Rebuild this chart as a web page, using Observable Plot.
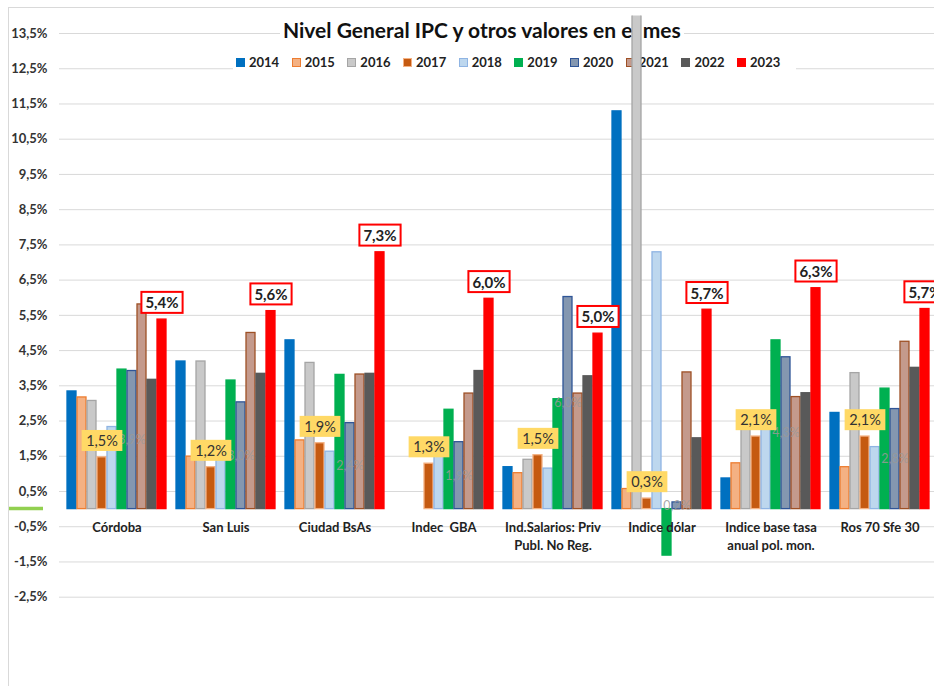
<!DOCTYPE html>
<html><head><meta charset="utf-8">
<script src="https://cdn.jsdelivr.net/npm/d3@7"></script>
<script src="https://cdn.jsdelivr.net/npm/@observablehq/plot@0.6"></script>
<style>
html,body{margin:0;padding:0;background:#fff;overflow:hidden;}
#wrap{position:relative;width:934px;height:686px;overflow:hidden;font-family:Lato,"Open Sans",sans-serif;}
#wrap > *{position:absolute;}
#frame{left:8px;top:7px;width:960px;height:720px;border-left:1px solid #d9d9d9;border-top:1px solid #d9d9d9;}
#title{left:280px;top:16px;padding:0 3px;background:#fff;font-weight:bold;font-size:21px;color:#111;line-height:27px;white-space:nowrap;}
#legend{left:233px;top:52px;height:20px;padding:0 3px;background:#fff;display:flex;align-items:center;font-weight:bold;font-size:13px;color:#222;white-space:nowrap;}
#legend .it{display:flex;align-items:center;margin-right:12.5px;}
#legend .sw{width:7px;height:7px;margin-right:4px;border:1px solid;}
</style>
</head><body>
<div id="wrap">
  <div id="base"></div>
  <div id="frame"></div>
  <div id="title">Nivel General IPC y otros valores en el mes</div>
  <div id="legend"></div>
  <div id="top"></div>
</div>
<script>
const categories = ["Córdoba", "San Luis", "Ciudad BsAs", "Indec  GBA", "Ind.Salarios: Priv\nPubl. No Reg.", "Indice dólar", "Indice base tasa\nanual pol. mon.", "Ros 70 Sfe 30"];
const years = ["2014", "2015", "2016", "2017", "2018", "2019", "2020", "2021", "2022", "2023"];
const v2014 = [3.34, 4.19, 4.79, null, 1.19, 11.29, 0.87, 2.73];
const v2015 = [3.17, 1.49, 1.95, null, 1.02, 0.57, 1.30, 1.19];
const v2016 = [3.07, 4.19, 4.15, null, 1.40, 15.0, 2.30, 3.86];
const v2017 = [1.47, 1.19, 1.87, 1.29, 1.53, 0.30, 2.06, 2.06];
const v2018 = [2.33, 1.40, 1.63, 1.60, 1.15, 7.29, 2.30, 1.76];
const v2019 = [3.96, 3.65, 3.81, 2.82, 3.12, -1.32, 4.79, 3.42];
const v2020 = [3.92, 3.03, 2.44, 1.90, 6.02, 0.19, 4.31, 2.84];
const v2021 = [5.81, 5.00, 3.82, 3.28, 3.28, 3.88, 3.18, 4.75];
const v2022 = [3.67, 3.84, 3.84, 3.92, 3.77, 2.01, 3.29, 4.01];
const v2023 = [5.38, 5.62, 7.29, 5.97, 4.98, 5.66, 6.27, 5.68];
const yTicks = [-2.5, -1.5, -0.5, 0.5, 1.5, 2.5, 3.5, 4.5, 5.5, 6.5, 7.5, 8.5, 9.5, 10.5, 11.5, 12.5, 13.5];

const series = [v2014, v2015, v2016, v2017, v2018, v2019, v2020, v2021, v2022, v2023];
const fills   = ["#0070C0", "#F4B183", "#C9C9C9", "#C55A11", "#BDD7EE", "#00B050", "#8497B0", "#C49A8C", "#595959", "#FF0000"];
const strokes = ["#0070C0", "#ED7D31", "#A5A5A5", "#F4B183", "#8FB4E3", "#00B050", "#2F5597", "#9E5025", "#595959", "#FF0000"];
const fillOf = y => fills[years.indexOf(y)];
const strokeOf = y => strokes[years.indexOf(y)];

const data = [];
years.forEach((yr, i) => categories.forEach((c, j) => {
  const v = series[i][j];
  if (v != null) data.push({cat: c, year: yr, value: v});
}));
const catLabels = categories.map(c => ({cat: c, y: 0}));
const fmt = v => v.toFixed(1).replace(".", ",") + "%";

const W = 934, H = 686;
const common = {
  width: W, height: H,
  marginTop: 15.4, marginBottom: 71.7, marginLeft: 59, marginRight: -2,
};

const plotA = Plot.plot({
  ...common,
  style: {background: "transparent", fontFamily: "Lato, sans-serif", maxWidth: "none"},
  y: {domain: [-3, 14]},
  marks: [
    Plot.gridY(yTicks, {stroke: "#d9d9d9", strokeOpacity: 1, strokeWidth: 1}),
    Plot.axisY(yTicks, {tickSize: 0, tickPadding: 12, tickFormat: fmt, fontWeight: "bold", fontSize: 13, fill: "#333"})
  ]
});
document.getElementById("base").appendChild(plotA);
{
  const y0 = plotA.scale("y").apply(0);
  d3.select(plotA).append("line").attr("x1", 8).attr("x2", 43).attr("y1", y0).attr("y2", y0)
    .attr("stroke", "#92D050").attr("stroke-width", 3.5);
}

const plotB = Plot.plot({
  ...common,
  style: {background: "transparent", fontFamily: "Lato, sans-serif", maxWidth: "none"},
  y: {domain: [-3, 14], axis: null},
  fx: {domain: categories, axis: null, paddingInner: 0, paddingOuter: 0},
  x: {domain: years, axis: null, paddingInner: 0.12, paddingOuter: 0.45},
  color: {type: "identity"},
  marks: [
    Plot.barY(data, {fx: "cat", x: "year", y: "value", fill: d => fillOf(d.year), stroke: d => strokeOf(d.year), strokeWidth: 1.3, clip: true}),
    Plot.text(catLabels, {fx: "cat", y: "y", text: "cat", dy: 10, lineAnchor: "top", lineHeight: 1.4, fontWeight: "bold", fontSize: 13, fill: "#222"}),
    Plot.text(data.filter(d => d.year === "2020"), {fx: "cat", x: "year", y: d => d.value / 2, text: d => fmt(d.value), fill: "#999", fillOpacity: 0.85, fontSize: 12.5}),
    Plot.text(data.filter(d => d.year === "2017"), {fx: "cat", x: "year", y: "value", dy: -16, text: d => fmt(d.value), fontSize: 14.5, fill: "#333", ariaDescription: "lbl-yellow"}),
    Plot.text(data.filter(d => d.year === "2023"), {fx: "cat", x: "year", y: "value", dy: -16, text: d => fmt(d.value), fontSize: 15, fontWeight: "bold", fill: "#222", ariaDescription: "lbl-red"})
  ]
});
document.getElementById("top").appendChild(plotB);

function boxes(svg, label, fill, stroke, sw, padX, padY) {
  d3.select(svg).selectAll(`g[aria-description="${label}"] text`).each(function() {
    const b = this.getBBox();
    const node = this;
    d3.select(node.parentNode).insert("rect", () => node)
      .attr("transform", node.getAttribute("transform"))
      .attr("x", b.x - padX).attr("y", b.y - padY)
      .attr("width", b.width + 2 * padX).attr("height", b.height + 2 * padY)
      .attr("fill", fill).attr("stroke", stroke).attr("stroke-width", sw);
  });
}
boxes(plotB, "lbl-yellow", "#FFD966", "none", 0, 4.5, 2);
boxes(plotB, "lbl-red", "#ffffff", "#FF0000", 2, 4, 1.5);

// legend
const leg = d3.select("#legend");
years.forEach(y => {
  const it = leg.append("div").attr("class", "it");
  it.append("div").attr("class", "sw").style("background", fillOf(y)).style("border-color", strokeOf(y));
  it.append("span").text(y);
});
</script>
</body></html>
